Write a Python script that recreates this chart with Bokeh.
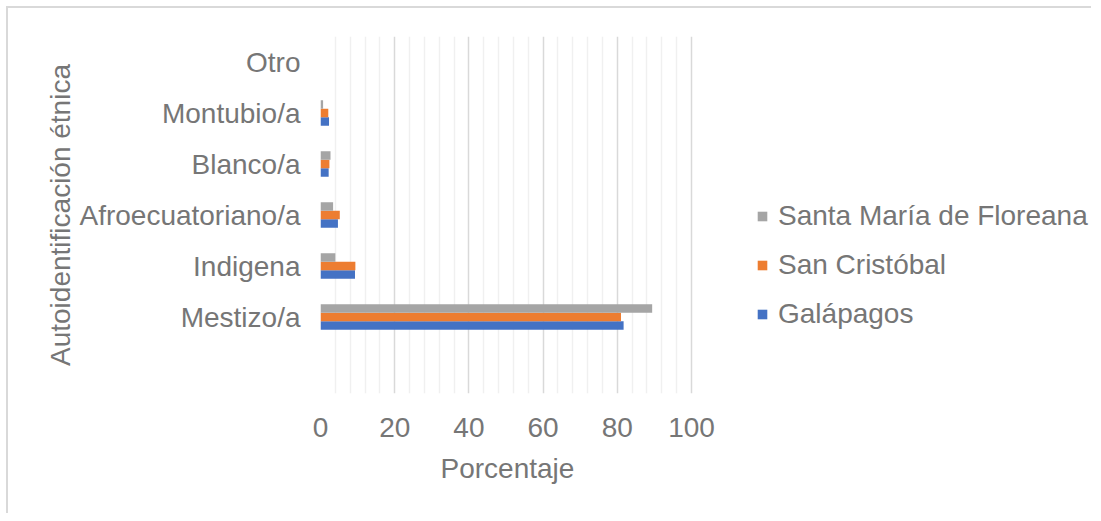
from bokeh.plotting import figure
from bokeh.models import ColumnDataSource, Legend, LegendItem, FixedTicker, Title
from bokeh.transform import dodge
from bokeh.embed import file_html
from bokeh.resources import INLINE

categories = [" ", "Mestizo/a", "Indigena", "Afroecuatoriano/a", "Blanco/a", "Montubio/a", "Otro"]
galapagos = [0, 81.7, 9.3, 4.7, 2.2, 2.3, 0]
san_cristobal = [0, 81.0, 9.4, 5.2, 2.4, 2.1, 0]
floreana = [0, 89.4, 4.0, 3.4, 2.7, 0.7, 0]
series_names = ["Galápagos", "San Cristóbal", "Santa María de Floreana"]
colors = ["#4472C4", "#ED7D31", "#A5A5A5"]
major_ticks = [0, 20, 40, 60, 80, 100]
minor_ticks = [v for v in range(4, 100, 4) if v % 20 != 0]

FONT = "Liberation Sans"
TXT = "#767676"
FS = "28px"

FRAME_W = 771
PX_PER_UNIT = 3.71

src = ColumnDataSource(dict(cat=categories, g=galapagos, s=san_cristobal, f=floreana))

p = figure(frame_width=FRAME_W, frame_height=357, y_range=categories,
           x_range=(0, FRAME_W / PX_PER_UNIT),
           output_backend="svg", toolbar_location=None,
           min_border_left=312, min_border_top=28, min_border_bottom=120, min_border_right=0)
p.styles = {"border-top": "2px solid #d9d9d9", "border-left": "2px solid #d9d9d9",
            "margin-left": "6px", "margin-top": "6px"}
p.outline_line_color = None

h = 0.167
renderers = []
for key, off, col in [("g", -h, colors[0]), ("s", 0.0, colors[1]), ("f", h, colors[2])]:
    r = p.hbar(y=dodge("cat", off, range=p.y_range), right=key, left=0, height=h,
               source=src, fill_color=col, line_color=None)
    renderers.append(r)

p.xaxis.ticker = FixedTicker(ticks=major_ticks, minor_ticks=minor_ticks)
p.xgrid.grid_line_color = "#d9d9d9"
p.xgrid.grid_line_width = 1.5
p.xgrid.minor_grid_line_color = "#f0f0f0"
p.xgrid.minor_grid_line_width = 1.5
p.ygrid.grid_line_color = None

for ax in (p.xaxis[0], p.yaxis[0]):
    ax.axis_line_color = None
    ax.major_tick_line_color = None
    ax.minor_tick_line_color = None
    ax.major_label_text_font = FONT
    ax.major_label_text_font_size = FS
    ax.major_label_text_color = TXT
    ax.axis_label_text_font = FONT
    ax.axis_label_text_font_size = FS
    ax.axis_label_text_color = TXT
    ax.axis_label_text_font_style = "normal"

p.yaxis.axis_label = "Autoidentificación étnica"
p.xaxis.major_label_standoff = 18
p.yaxis.major_label_standoff = 14
p.yaxis.axis_label_standoff = 0

xtitle = Title(text="Porcentaje", align="left", offset=120, standoff=22,
               text_font=FONT, text_font_size=FS, text_color=TXT, text_font_style="normal")
p.add_layout(xtitle, "below")

legend = Legend(items=[LegendItem(label=series_names[2], renderers=[renderers[2]]),
                       LegendItem(label=series_names[1], renderers=[renderers[1]]),
                       LegendItem(label=series_names[0], renderers=[renderers[0]])],
                location=(436, 61))
legend.label_text_font = FONT
legend.label_text_font_size = FS
legend.label_text_color = TXT
legend.glyph_width = 12
legend.glyph_height = 12
legend.label_height = 36
legend.spacing = 13
legend.label_standoff = 10
legend.padding = 0
legend.margin = 0
legend.border_line_color = None
legend.background_fill_color = None
p.add_layout(legend, "center")

open("out.html", "w").write(file_html(p, INLINE))
